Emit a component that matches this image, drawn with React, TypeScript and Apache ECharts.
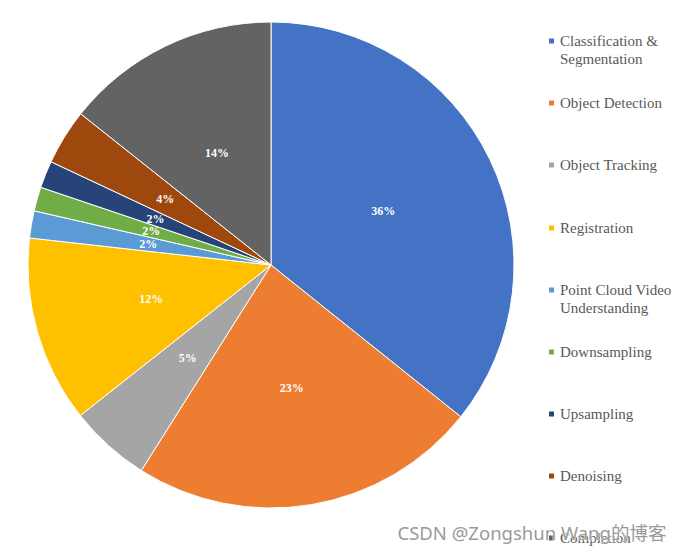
import React, { useEffect, useRef } from "react";
import * as echarts from "echarts";

const categories = [
  "Classification & Segmentation",
  "Object Detection",
  "Object Tracking",
  "Registration",
  "Point Cloud Video Understanding",
  "Downsampling",
  "Upsampling",
  "Denoising",
  "Completion",
];
const legendLabels = [
  "\nClassification &\nSegmentation",
  "Object Detection",
  "Object Tracking",
  "Registration",
  "\nPoint Cloud Video\nUnderstanding",
  "Downsampling",
  "Upsampling",
  "Denoising",
  "Completion",
];
const values = [35.7, 23.2, 5.4, 12.4, 1.8, 1.6, 1.8, 3.7, 14.3];
const colors = ["#4472C4", "#ED7D31", "#A5A5A5", "#FFC000", "#5B9BD5", "#70AD47", "#264478", "#9E480E", "#636363"];
const legendIconY = [41, 103, 165, 228, 290, 352, 414, 476, 538];

export default function App() {
  const ref = useRef<HTMLDivElement>(null);
  useEffect(() => {
    if (!ref.current) return;
    const chart = echarts.init(ref.current, null, { renderer: "svg" });
    const serif = "'Liberation Serif', 'Times New Roman', serif";
    const legends = categories.map((name, i) => {
      const multi = legendLabels[i].startsWith("\n");
      return {
        orient: "vertical" as const,
        left: 547,
        top: legendIconY[i] - (multi ? 27 : 9),
        padding: 0,
        itemWidth: 7,
        itemHeight: 7,
        icon: "rect",
        data: [name],
        formatter: () => legendLabels[i],
        selectedMode: false,
        textStyle: { fontFamily: serif, fontSize: 15, color: "#595959", lineHeight: 18 },
      };
    });
    chart.setOption({
      animation: false,
      color: colors,
      legend: legends,
      graphic: [
        {
          type: "text",
          left: 397,
          top: 523,
          z: 100,
          style: {
            text: "CSDN @Zongshun Wang的博客",
            fontFamily: "'Noto Sans', 'Noto Sans CJK SC', sans-serif",
            fontSize: 18.5,
            fill: "#9a9a9a",
            stroke: "rgba(255,255,255,0.8)",
            lineWidth: 1,
          },
        },
      ],
      series: [
        {
          type: "pie",
          center: [271, 265],
          radius: 243,
          startAngle: 90,
          clockwise: true,
          avoidLabelOverlap: false,
          itemStyle: { borderColor: "#fff", borderWidth: 1 },
          label: {
            show: true,
            position: "inside",
            color: "#fff",
            fontFamily: serif,
            fontWeight: "bold",
            fontSize: 12,
            formatter: (p: any) => Math.round(p.percent) + "%",
          },
          labelLine: { show: false },
          emphasis: { disabled: true },
          data: categories.map((name, i) => ({ name, value: values[i] })),
        },
      ],
    });
    return () => chart.dispose();
  }, []);
  return <div ref={ref} style={{ position: "absolute", left: 0, top: 0, width: 683, height: 553 }} />;
}
